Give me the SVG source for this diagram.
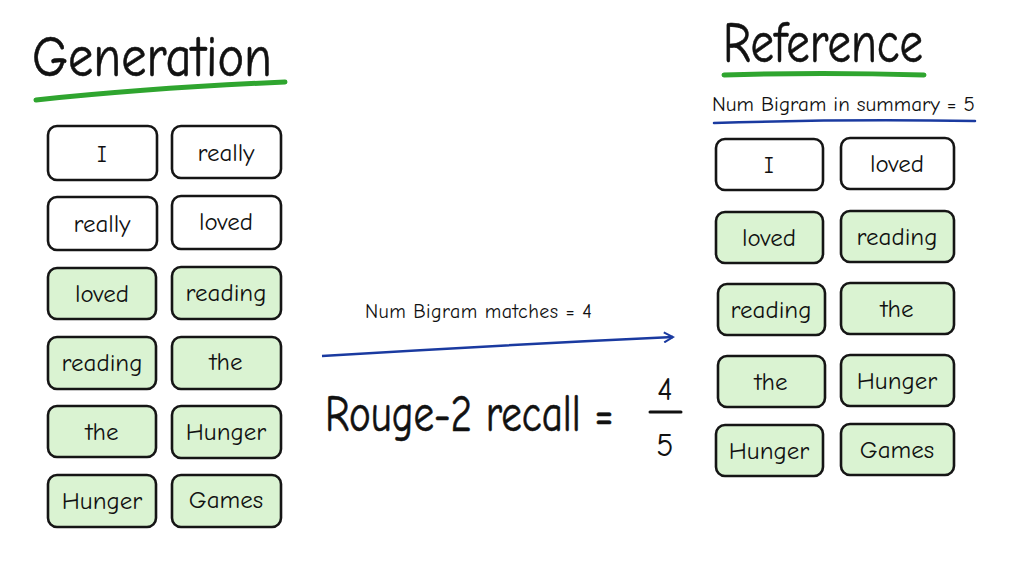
<svg xmlns="http://www.w3.org/2000/svg" width="1024" height="576" viewBox="0 0 1024 576">
<defs>
<style>
text{font-family:"Comic Neue","Liberation Sans","DejaVu Sans",sans-serif;fill:#111}
.b{stroke:#151515;stroke-width:2.6;rx:9;ry:9}
.w{fill:#fff}
.g{fill:#daf3d2}
.t{font-size:25px;text-anchor:middle}
.title{font-size:58px;stroke:#111;stroke-width:0.6}
</style>
<marker id="ah" viewBox="0 0 12 12" refX="10" refY="6" markerWidth="12" markerHeight="12" markerUnits="userSpaceOnUse" orient="auto">
<path d="M1 1 L10 6 L1 11" fill="none" stroke="#1a3aa0" stroke-width="2"/>
</marker>
</defs>
<rect width="1024" height="576" fill="#fff"/>

<g id="titles">
<text class="title" x="32" y="76" textLength="240" lengthAdjust="spacingAndGlyphs">Generation</text>
<path d="M36 100 Q150 88 285 82" fill="none" stroke="#2fa52f" stroke-width="5" stroke-linecap="round"/>
<text class="title" x="723" y="62" textLength="200" lengthAdjust="spacingAndGlyphs">Reference</text>
<path d="M724 75 Q820 72 924 75" fill="none" stroke="#2fa52f" stroke-width="5" stroke-linecap="round"/>
<text x="712" y="111" font-size="21" textLength="263" lengthAdjust="spacing">Num Bigram in summary = 5</text>
<path d="M714 123 Q840 119 975 121" fill="none" stroke="#1a3aa0" stroke-width="2.5" stroke-linecap="round"/>
</g>

<g id="gen-1-1"><rect class="b w" x="48" y="126" width="109" height="54"/><text class="t" x="102" y="162">I</text></g>
<g id="gen-1-2"><rect class="b w" x="172" y="126" width="109" height="52"/><text class="t" x="226" y="161">really</text></g>
<g id="gen-2-1"><rect class="b w" x="48" y="197" width="109" height="53"/><text class="t" x="102" y="232">really</text></g>
<g id="gen-2-2"><rect class="b w" x="172" y="196" width="109" height="53"/><text class="t" x="226" y="230">loved</text></g>
<g id="gen-3-1"><rect class="b g" x="48" y="268" width="108" height="51"/><text class="t" x="102" y="302">loved</text></g>
<g id="gen-3-2"><rect class="b g" x="172" y="267" width="109" height="52"/><text class="t" x="226" y="301">reading</text></g>
<g id="gen-4-1"><rect class="b g" x="48" y="337" width="108" height="52"/><text class="t" x="102" y="371">reading</text></g>
<g id="gen-4-2"><rect class="b g" x="172" y="337" width="109" height="52"/><text class="t" x="226" y="370">the</text></g>
<g id="gen-5-1"><rect class="b g" x="48" y="406" width="108" height="51"/><text class="t" x="102" y="440">the</text></g>
<g id="gen-5-2"><rect class="b g" x="172" y="406" width="109" height="52"/><text class="t" x="226" y="440">Hunger</text></g>
<g id="gen-6-1"><rect class="b g" x="48" y="475" width="108" height="52"/><text class="t" x="102" y="509">Hunger</text></g>
<g id="gen-6-2"><rect class="b g" x="172" y="475" width="109" height="52"/><text class="t" x="226" y="508">Games</text></g>

<g id="ref-1-1"><rect class="b w" x="716" y="139" width="107" height="51"/><text class="t" x="769" y="173">I</text></g>
<g id="ref-1-2"><rect class="b w" x="841" y="138" width="113" height="51"/><text class="t" x="897" y="172">loved</text></g>
<g id="ref-2-1"><rect class="b g" x="716" y="212" width="107" height="51"/><text class="t" x="769" y="246">loved</text></g>
<g id="ref-2-2"><rect class="b g" x="841" y="211" width="113" height="51"/><text class="t" x="897" y="245">reading</text></g>
<g id="ref-3-1"><rect class="b g" x="718" y="284" width="107" height="51"/><text class="t" x="771" y="318">reading</text></g>
<g id="ref-3-2"><rect class="b g" x="841" y="283" width="113" height="51"/><text class="t" x="897" y="317">the</text></g>
<g id="ref-4-1"><rect class="b g" x="718" y="356" width="107" height="51"/><text class="t" x="771" y="390">the</text></g>
<g id="ref-4-2"><rect class="b g" x="841" y="355" width="113" height="51"/><text class="t" x="897" y="389">Hunger</text></g>
<g id="ref-5-1"><rect class="b g" x="716" y="425" width="107" height="51"/><text class="t" x="769" y="459">Hunger</text></g>
<g id="ref-5-2"><rect class="b g" x="841" y="424" width="113" height="51"/><text class="t" x="897" y="458">Games</text></g>

<g id="connectors">
<path d="M322 356 Q500 345 673 337" fill="none" stroke="#1a3aa0" stroke-width="2.5" marker-end="url(#ah)"/>
<text x="365" y="318" font-size="20" textLength="227" lengthAdjust="spacing">Num Bigram matches = 4</text>
</g>

<g id="formula">
<text transform="translate(325 431) scale(0.79 1)" font-size="52" stroke="#111" stroke-width="0.6">Rouge-2 recall =</text>
<text x="665" y="400" font-size="32" text-anchor="middle">4</text>
<line x1="650" y1="412" x2="681" y2="412" stroke="#111" stroke-width="3" stroke-linecap="round"/>
<text x="665" y="456" font-size="32" text-anchor="middle">5</text>
</g>
</svg>
